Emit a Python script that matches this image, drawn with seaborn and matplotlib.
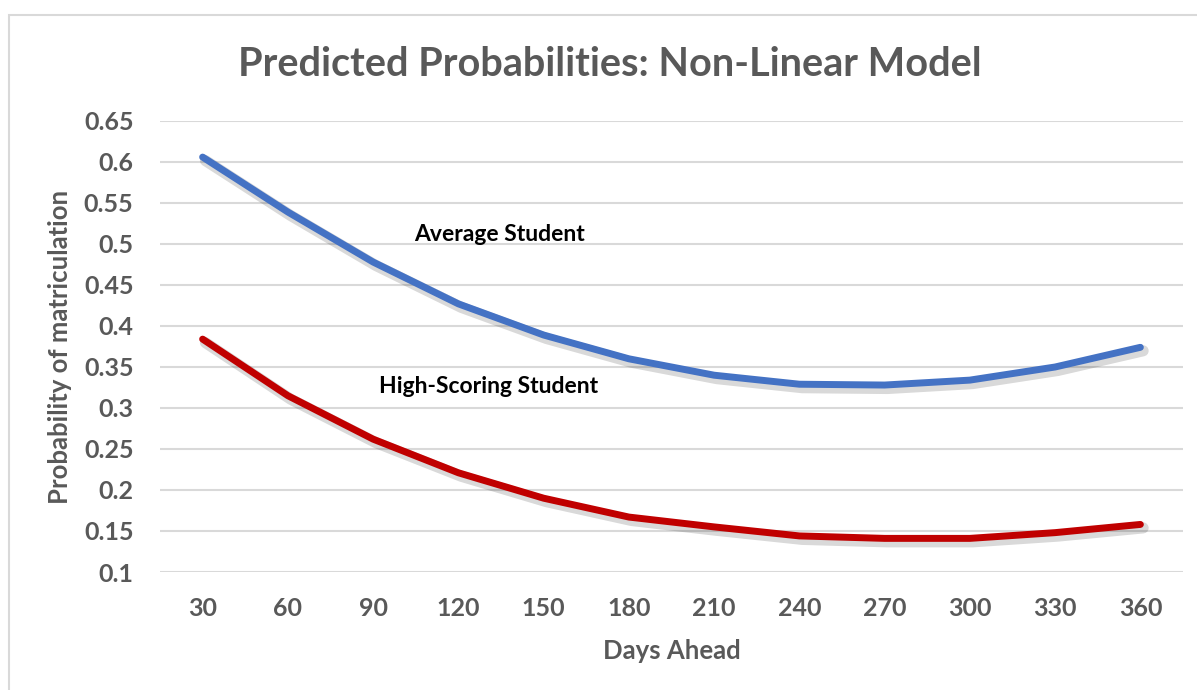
import matplotlib
matplotlib.use("Agg")
import matplotlib.pyplot as plt
import matplotlib.patheffects as pe
from matplotlib.patches import Rectangle
import seaborn as sns
import pandas as pd

# Predicted probability of matriculation by days ahead
days = [30, 60, 90, 120, 150, 180, 210, 240, 270, 300, 330, 360]
average_student = [0.606, 0.539, 0.478, 0.427, 0.389, 0.360, 0.340, 0.329, 0.328, 0.334, 0.350, 0.374]
high_scoring_student = [0.384, 0.315, 0.262, 0.221, 0.190, 0.167, 0.155, 0.144, 0.141, 0.141, 0.148, 0.158]

series_names = ["Average Student", "High-Scoring Student"]
series_colors = ["#4472C4", "#C00000"]

y_ticks = [0.1, 0.15, 0.2, 0.25, 0.3, 0.35, 0.4, 0.45, 0.5, 0.55, 0.6, 0.65]
y_tick_labels = ["0.1", "0.15", "0.2", "0.25", "0.3", "0.35", "0.4", "0.45", "0.5", "0.55", "0.6", "0.65"]

title = "Predicted Probabilities: Non-Linear Model"
x_label = "Days Ahead"
y_label = "Probability of matriculation"

df = pd.DataFrame({
    "days": days * 2,
    "prob": average_student + high_scoring_student,
    "series": [series_names[0]] * len(days) + [series_names[1]] * len(days),
})

sns.set_theme(style="white")
plt.rcParams["font.family"] = ["Lato", "DejaVu Sans"]

GRAY = "#595959"

fig = plt.figure(figsize=(11.97, 6.90), dpi=100)
ax = fig.add_axes([160 / 1197, 1 - 572 / 690, (1183 - 160) / 1197, (572 - 121) / 690])

sns.lineplot(data=df, x="days", y="prob", hue="series", palette=series_colors,
             hue_order=series_names, linewidth=5, legend=False, ax=ax)

for line in ax.get_lines():
    line.set_solid_capstyle("round")
    line.set_solid_joinstyle("round")
    line.set_path_effects([
        pe.SimpleLineShadow(offset=(2.0, -2.5), shadow_color="black", alpha=0.15, linewidth=8),
        pe.Normal(),
    ])

ax.set_xlim(15, 375)
ax.set_ylim(0.1, 0.65)
ax.set_xticks(days)
ax.set_xticklabels([str(d) for d in days])
ax.set_yticks(y_ticks)
ax.set_yticklabels(y_tick_labels)

ax.grid(axis="y", color="#d9d9d9", linewidth=1.5)
ax.grid(axis="x", visible=False)
for s in ax.spines.values():
    s.set_visible(False)
ax.set_axisbelow(True)

ax.tick_params(axis="both", length=0, labelsize=18, labelcolor=GRAY)
ax.tick_params(axis="y", pad=19)
ax.tick_params(axis="x", pad=18)
for lbl in ax.get_xticklabels() + ax.get_yticklabels():
    lbl.set_fontweight("bold")

ax.set_xlabel(x_label, fontsize=18.5, fontweight="bold", color=GRAY)
ax.xaxis.set_label_coords(0.5, -0.175)
ax.xaxis.label.set_va("center")
ax.set_ylabel(y_label, fontsize=18.5, fontweight="bold", color=GRAY)
ax.yaxis.set_label_coords(-0.098, 0.5)
ax.yaxis.label.set_va("center")

ax.text(3.48 * 30 + 30, 0.511, series_names[0], ha="center", va="center",
        fontsize=16.5, fontweight="bold", color="black")
ax.text(3.35 * 30 + 30, 0.3265, series_names[1], ha="center", va="center",
        fontsize=16.5, fontweight="bold", color="black")

fig.text(610 / 1197, 1 - 64 / 690, title, ha="center", va="center",
         fontsize=28.5, fontweight="bold", color=GRAY)

# chart area border
fig.patches.append(Rectangle((9 / 1197, -0.1), 1.2, 1 - 15 / 690 + 0.1,
                             transform=fig.transFigure, fill=False,
                             edgecolor="#d9d9d9", linewidth=1.5))

fig.savefig("out.png", dpi=100)
